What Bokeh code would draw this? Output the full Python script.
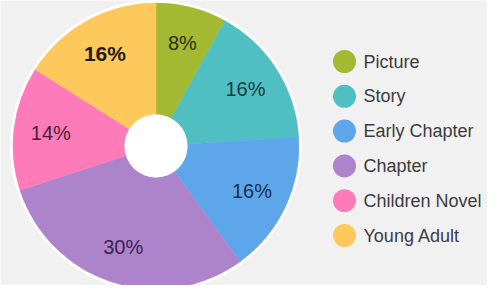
import math
from bokeh.plotting import figure
from bokeh.models import Range1d, ColumnDataSource
from bokeh.core.properties import value
from bokeh.embed import file_html
from bokeh.resources import INLINE

categories = ["Picture", "Story", "Early Chapter", "Chapter", "Children Novel", "Young Adult"]
percents = [8, 16, 16, 30, 14, 16]
colors = ["#a3b931", "#4fbfc1", "#5ea6ea", "#ad83cb", "#fd7bb8", "#fec95c"]
label_colors = ["#2a2f12", "#1d3a40", "#1c2f48", "#3a2450", "#4a1f35", "#1e1a10"]

W, H = 487, 285
BG = "#f1f1f1"
cx, cy = 155.5, 139.5
r_out, r_in, r_ring = 143, 31.5, 146
label_r = 106

total = sum(percents)
starts, ends, lx, ly = [], [], [], []
acc = 0.0
for v in percents:
    a0 = math.pi / 2 - 2 * math.pi * acc / total
    acc += v
    a1 = math.pi / 2 - 2 * math.pi * acc / total
    starts.append(a0)
    ends.append(a1)
    mid = (a0 + a1) / 2
    lx.append(cx + label_r * math.cos(mid))
    ly.append(cy + label_r * math.sin(mid))

src = ColumnDataSource(dict(cat=categories, pct=percents, color=colors,
                            start=starts, end=ends))

p = figure(width=W, height=H, x_range=Range1d(0, W), y_range=Range1d(0, H),
           output_backend="svg", toolbar_location=None, min_border=0,
           background_fill_color=BG, border_fill_color=BG)
p.axis.visible = False
p.grid.visible = False
p.outline_line_color = None

# white rim
p.circle(x=[cx], y=[cy], radius=r_ring, fill_color="#ffffff", line_color=None)
p.annular_wedge(x=cx, y=cy, inner_radius=r_in, outer_radius=r_out,
                start_angle="start", end_angle="end", direction="clock",
                fill_color="color", line_color="color", line_width=0.5, source=src)
p.circle(x=[cx], y=[cy], radius=r_in, fill_color="#ffffff", line_color=None)

# labels
normal_idx = [i for i in range(len(categories)) if categories[i] != "Young Adult"]
bold_idx = [i for i in range(len(categories)) if categories[i] == "Young Adult"]
for idxs, style, size in ((normal_idx, "normal", "20px"), (bold_idx, "bold", "21px")):
    s = ColumnDataSource(dict(x=[lx[i] for i in idxs], y=[ly[i] for i in idxs],
                              t=[f"{percents[i]}%" for i in idxs],
                              c=[label_colors[i] for i in idxs]))
    p.text(x="x", y="y", text="t", text_color="c", source=s,
           text_font=value("Liberation Sans"), text_font_size=value(size),
           text_font_style=style, text_align="center", text_baseline="middle")

# legend
leg_x, leg_top, leg_step = 344, 224, 34.8
leg_y = [leg_top - i * leg_step for i in range(len(categories))]
lsrc = ColumnDataSource(dict(x=[leg_x] * len(categories), y=leg_y, c=colors,
                             tx=[leg_x + 19] * len(categories), t=categories))
p.scatter(x="x", y="y", size=23, marker="circle", fill_color="c", line_color=None, source=lsrc)
p.text(x="tx", y="y", text="t", source=lsrc, text_color="#3c3c3c",
       text_font=value("Liberation Sans"), text_font_size=value("18px"),
       text_align="left", text_baseline="middle")

open("out.html", "w").write(file_html(p, INLINE))
